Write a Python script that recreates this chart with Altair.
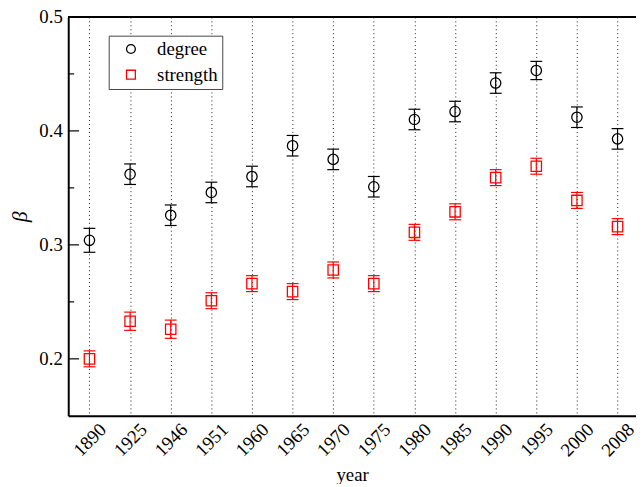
import altair as alt
import pandas as pd

years = ["1890", "1925", "1946", "1951", "1960", "1965", "1970",
         "1975", "1980", "1985", "1990", "1995", "2000", "2008"]
degree = [0.304, 0.362, 0.326, 0.346, 0.360, 0.387, 0.375,
          0.351, 0.410, 0.417, 0.442, 0.453, 0.412, 0.393]
degree_err = [0.0105, 0.009, 0.009, 0.009, 0.009, 0.009, 0.009,
              0.009, 0.009, 0.009, 0.009, 0.008, 0.009, 0.009]
strength = [0.200, 0.233, 0.226, 0.251, 0.266, 0.259, 0.278,
            0.266, 0.311, 0.329, 0.359, 0.369, 0.339, 0.316]
strength_err = [0.007, 0.008, 0.008, 0.007, 0.007, 0.007, 0.007,
                0.007, 0.007, 0.007, 0.007, 0.007, 0.007, 0.007]
series_names = ["degree", "strength"]
major_ticks = [0.2, 0.3, 0.4, 0.5]
minor_ticks = [0.25, 0.35, 0.45]

n = len(years)
positions = list(range(n))
df = pd.DataFrame({
    "pos": positions * 2,
    "year": years * 2,
    "beta": degree + strength,
    "err": degree_err + strength_err,
    "series": [series_names[0]] * n + [series_names[1]] * n,
})
df["lo"] = df["beta"] - df["err"]
df["hi"] = df["beta"] + df["err"]

FONT = "Liberation Serif, Times New Roman, Times, serif"
W, H = 575, 404
first_px, last_px = 21.5, 556.3
step = (last_px - first_px) / (n - 1)
xmin = -first_px / step
xmax = xmin + W / step

label_expr = "[" + ",".join("'%s'" % y for y in years) + "][round(datum.value)]"

xscale = alt.Scale(domain=[xmin, xmax], nice=False, zero=False)
yscale = alt.Scale(domain=[0.15, 0.5], nice=False, zero=False)

xaxis = alt.Axis(
    title="year", values=positions, labelExpr=label_expr,
    labelAngle=315, labelAlign="center", labelBaseline="middle",
    labelPadding=24, ticks=False, grid=True, gridDash=[1, 3], gridColor="black",
    gridWidth=1, gridOpacity=0.9, domainColor="black", domainWidth=2,
    labelFont=FONT, labelFontSize=19, labelColor="black", labelFlush=False,
    labelOverlap=False,
    titleFont=FONT, titleFontSize=19, titleFontWeight="normal", titleColor="black",
    titlePadding=6,
)
yaxis = alt.Axis(
    values=major_ticks, format=".1f", ticks=False, grid=False,
    domainColor="black", domainWidth=2,
    labelFont=FONT, labelFontSize=19, labelColor="black", labelPadding=6,
    titleFont=FONT, titleFontSize=22, titleFontStyle="italic",
    titleFontWeight="normal", titleColor="black", titlePadding=8,
)

X = alt.X("pos:Q", scale=xscale, axis=xaxis, title="year")
legend = alt.Legend(title=None, orient="none", legendX=41, legendY=19)
color = alt.Color("series:N", scale=alt.Scale(domain=series_names, range=["black", "red"]),
                  legend=legend)
shape = alt.Shape("series:N", scale=alt.Scale(domain=series_names, range=["circle", "square"]),
                  legend=legend)

base = alt.Chart(df)

bars = base.mark_rule(strokeWidth=1.2).encode(
    x=X,
    y=alt.Y("lo:Q", scale=yscale, axis=yaxis, title="β"),
    y2="hi:Q",
    color=color,
)
caps_lo = base.mark_rule(strokeWidth=1.2, orient="horizontal", xOffset=-6, x2Offset=6).encode(
    x=X, x2="pos:Q",
    y=alt.Y("lo:Q", scale=yscale, axis=yaxis, title="β"),
    color=color,
)
caps_hi = base.mark_rule(strokeWidth=1.2, orient="horizontal", xOffset=-6, x2Offset=6).encode(
    x=X, x2="pos:Q",
    y=alt.Y("hi:Q", scale=yscale, axis=yaxis, title="β"),
    color=color,
)
points = base.mark_point(filled=False, size=110, strokeWidth=1.3, opacity=1).encode(
    x=X,
    y=alt.Y("beta:Q", scale=yscale, axis=yaxis, title="β"),
    color=color,
    shape=shape,
)

# inward y ticks, anchored at the left edge of the x domain
major_df = pd.DataFrame({"v": major_ticks, "edge": [xmin] * len(major_ticks)})
minor_df = pd.DataFrame({"v": minor_ticks, "edge": [xmin] * len(minor_ticks)})
major_marks = alt.Chart(major_df).mark_rule(
    color="black", strokeWidth=1.2, orient="horizontal", x2Offset=11
).encode(
    x=alt.X("edge:Q", scale=xscale, axis=xaxis, title="year"), x2="edge:Q",
    y=alt.Y("v:Q", scale=yscale, axis=yaxis, title="β"),
)
minor_marks = alt.Chart(minor_df).mark_rule(
    color="black", strokeWidth=1.2, orient="horizontal", x2Offset=6
).encode(
    x=alt.X("edge:Q", scale=xscale, axis=xaxis, title="year"), x2="edge:Q",
    y=alt.Y("v:Q", scale=yscale, axis=yaxis, title="β"),
)
top_border = base.mark_rule(color="black", strokeWidth=2).encode(
    y=alt.value(0), x=alt.value(0), x2=alt.value(W),
)

chart = alt.layer(points, bars, caps_lo, caps_hi, major_marks, minor_marks, top_border).properties(
    width=W, height=H,
    autosize=alt.AutoSizeParams(type="none"),
    padding={"left": 61, "top": 6, "right": 0, "bottom": 66},
).configure_view(stroke=None).configure_legend(
    labelFont=FONT, labelFontSize=19, labelColor="black",
    padding=4, rowPadding=6, symbolOffset=9, labelOffset=17,
    strokeColor="#444", fillColor="white", symbolSize=80, symbolStrokeWidth=1.3,
    symbolFillColor="transparent",
)

chart.save("out.html", embed_options={"renderer": "svg", "actions": False})
